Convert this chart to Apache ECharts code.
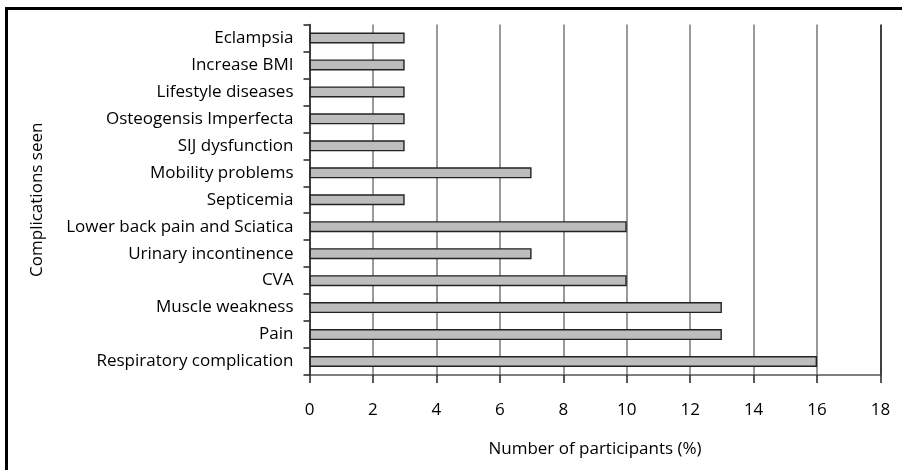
<!DOCTYPE html>
<html>
<head>
<meta charset="utf-8">
<script src="https://cdn.jsdelivr.net/npm/echarts@6/dist/echarts.min.js"></script>
<style>html,body{margin:0;padding:0;background:#fff}#c{width:902px;height:470px}</style>
</head>
<body>
<div id="c"></div>
<script>
const categories = ["Eclampsia","Increase BMI","Lifestyle diseases","Osteogensis Imperfecta","SIJ dysfunction","Mobility problems","Septicemia","Lower back pain and Sciatica","Urinary incontinence","CVA","Muscle weakness","Pain","Respiratory complication"];
const values = [3,3,3,3,3,7,3,10,7,10,13,13,16];
const xTicks = [0,2,4,6,8,10,12,14,16,18];
const xTitle = "Number of participants (%)";
const yTitle = "Complications seen";

const font = "Open Sans";
const chart = echarts.init(document.getElementById('c'), null, {renderer:'canvas'});
chart.setOption({
  animation:false,
  backgroundColor:'#fff',
  graphic:[{type:'rect',shape:{x:6.5,y:8.5,width:1000,height:1000},style:{fill:'none',stroke:'#000',lineWidth:3},silent:true,z:100}],
  grid:{left:309.5,right:21.5,top:24.5,bottom:95,containLabel:false},
  xAxis:{
    type:'value',min:xTicks[0],max:xTicks[xTicks.length-1],interval:2,
    name:xTitle,nameLocation:'middle',nameGap:66,
    nameTextStyle:{fontFamily:font,fontSize:17,color:'#000'},
    axisLine:{show:true,lineStyle:{color:'#555',width:1.5}},
    axisTick:{show:true,length:8,lineStyle:{color:'#222',width:1.5}},
    axisLabel:{fontFamily:font,fontSize:17,color:'#000',margin:27},
    splitLine:{show:true,lineStyle:{color:['#777','#777','#777','#777','#777','#777','#777','#777','#777','#000'],width:1.5}}
  },
  yAxis:{
    type:'category',data:categories,inverse:true,
    name:yTitle,nameLocation:'middle',nameGap:264,nameRotate:90,
    nameTextStyle:{fontFamily:font,fontSize:17,color:'#000'},
    axisLine:{show:true,lineStyle:{color:'#222',width:1.5}},
    axisTick:{show:true,length:6,lineStyle:{color:'#222',width:1.5}},
    axisLabel:{fontFamily:font,fontSize:17,color:'#000',margin:16},
    splitLine:{show:false}
  },
  series:[{
    type:'bar',data:values,barWidth:11,
    itemStyle:{color:'#bdbdbd',borderColor:'#222',borderWidth:1.4},
    z:3
  }]
});
</script>
</body>
</html>
